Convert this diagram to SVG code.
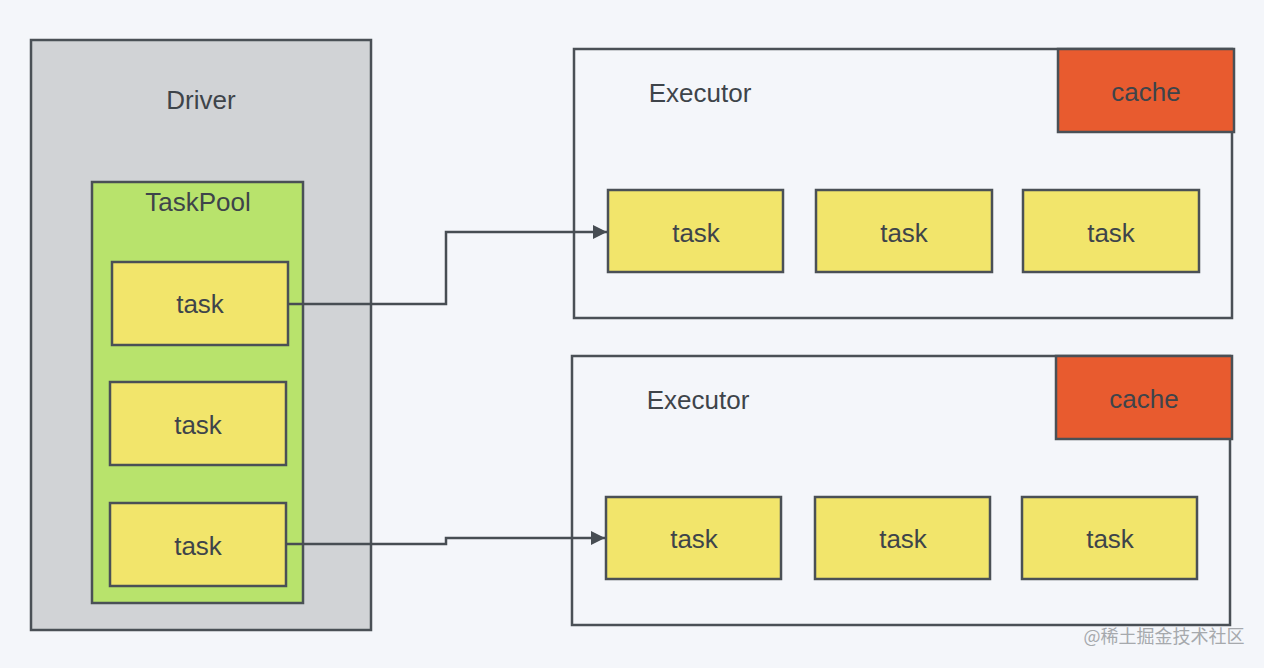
<svg xmlns="http://www.w3.org/2000/svg" width="1264" height="668" viewBox="0 0 1264 668">
<style>
text{font-family:"Liberation Sans",Arial,sans-serif;font-size:26px;fill:#3e444a;text-anchor:middle}
.box{stroke:#4a5056;stroke-width:2.5}
.task{fill:#f2e56b}
.cache{fill:#e85b2f}
.exec{fill:#f4f6fa}
.conn{fill:none;stroke:#474d53;stroke-width:2.5}
</style>
<defs>
<marker id="arr" viewBox="0 0 10 10" refX="10" refY="5" markerWidth="14" markerHeight="14" markerUnits="userSpaceOnUse" orient="auto">
<path d="M0,0 L10,5 L0,10 z" fill="#474d53"/>
</marker>
</defs>
<rect width="1264" height="668" fill="#f4f6fa"/>
<g id="driver">
<rect class="box" x="31" y="40" width="340" height="590" fill="#d1d3d6"/>
<text x="201" y="109">Driver</text>
</g>
<g id="taskpool">
<rect class="box" x="92" y="182" width="211" height="421" fill="#b8e36c"/>
<text x="198" y="211">TaskPool</text>
</g>
<g id="dtask1"><rect class="box task" x="112" y="262" width="176" height="83"/><text x="200" y="313">task</text></g>
<g id="dtask2"><rect class="box task" x="110" y="382" width="176" height="83"/><text x="198" y="434">task</text></g>
<g id="dtask3"><rect class="box task" x="110" y="503" width="176" height="83"/><text x="198" y="555">task</text></g>

<g id="executor1">
<rect class="box exec" x="574" y="49" width="658" height="269"/>
<text x="700" y="102">Executor</text>
</g>
<g id="cache1"><rect class="box cache" x="1058" y="49" width="176" height="83"/><text x="1146" y="101">cache</text></g>
<g id="e1task1"><rect class="box task" x="608" y="190" width="175" height="82"/><text x="696" y="242">task</text></g>
<g id="e1task2"><rect class="box task" x="816" y="190" width="176" height="82"/><text x="904" y="242">task</text></g>
<g id="e1task3"><rect class="box task" x="1023" y="190" width="176" height="82"/><text x="1111" y="242">task</text></g>

<g id="executor2">
<rect class="box exec" x="572" y="356" width="658" height="269"/>
<text x="698" y="409">Executor</text>
</g>
<g id="cache2"><rect class="box cache" x="1056" y="356" width="176" height="83"/><text x="1144" y="408">cache</text></g>
<g id="e2task1"><rect class="box task" x="606" y="497" width="175" height="82"/><text x="694" y="548">task</text></g>
<g id="e2task2"><rect class="box task" x="815" y="497" width="175" height="82"/><text x="903" y="548">task</text></g>
<g id="e2task3"><rect class="box task" x="1022" y="497" width="175" height="82"/><text x="1110" y="548">task</text></g>

<g id="connectors">
<path class="conn" d="M288,304 H446 V232 H607" marker-end="url(#arr)"/>
<path class="conn" d="M286,544 H446 V538 H605" marker-end="url(#arr)"/>
</g>
<text x="1164" y="643" style="font-family:'Noto Sans CJK SC','Liberation Sans',sans-serif;font-size:18px;fill:#a6a9ad">@稀土掘金技术社区</text>
</svg>
